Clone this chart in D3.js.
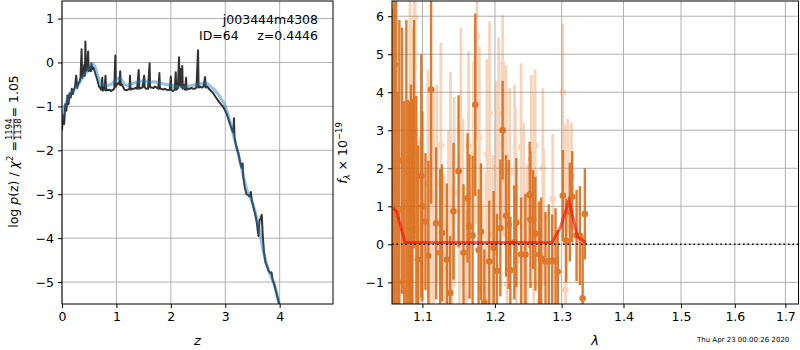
<!DOCTYPE html>
<html>
<head>
<meta charset="utf-8">
<script src="https://cdn.jsdelivr.net/npm/d3@7"></script>
<style>
  body { margin: 0; background: #fff; }
  svg { font-family: "DejaVu Sans", sans-serif; }
</style>
</head>
<body>
<div id="chart"></div>
<script>
const svgWidth = 800;
const svgHeight = 350;

// ---- p(z) panel data ----
const pzRedshift = [0.00,0.02,0.04,0.06,0.08,0.10,0.12,0.14,0.16,0.18,0.20,0.22,0.24,0.26,0.28,0.30,0.32,0.34,0.36,0.37,
  0.39,0.41,0.42,0.43,0.44,0.46,0.48,0.49,0.51,0.53,0.54,0.56,0.58,0.60,0.62,0.64,0.66,0.68,0.70,0.72,
  0.74,0.75,0.78,0.80,0.81,0.84,0.86,0.88,0.90,0.93,0.96,0.98,0.99,1.01,1.03,1.05,1.07,1.08,1.10,1.12,
  1.15,1.18,1.21,1.24,1.25,1.26,1.29,1.32,1.35,1.38,1.41,1.42,1.45,1.48,1.51,1.52,1.55,1.58,1.61,1.62,
  1.65,1.68,1.71,1.74,1.77,1.79,1.80,1.83,1.86,1.89,1.92,1.95,1.98,2.00,2.01,2.04,2.07,2.09,2.10,2.13,
  2.15,2.16,2.18,2.19,2.21,2.22,2.24,2.26,2.28,2.29,2.32,2.35,2.38,2.41,2.44,2.47,2.50,2.51,2.54,2.57,
  2.60,2.63,2.64,2.67,2.70,2.74,2.78,2.82,2.86,2.90,2.94,2.98,3.02,3.06,3.10,3.13,3.15,3.16,3.17,3.20,
  3.24,3.27,3.30,3.32,3.33,3.36,3.39,3.42,3.45,3.47,3.49,3.52,3.55,3.58,3.61,3.63,3.65,3.67,3.69,3.71,
  3.74,3.77,3.80,3.83,3.85,3.87,3.90,3.93,3.96,4.00];
const pzLog = [-1.55,-1.20,-1.40,-0.95,-1.10,-0.75,-0.95,-0.70,-0.80,-0.60,-0.72,-0.62,-0.55,-0.30,-0.58,-0.48,-0.45,-0.35,0.30,-0.35,
  -0.28,-0.05,-0.30,0.48,-0.20,-0.15,0.25,-0.20,-0.10,-0.20,-0.02,-0.15,-0.12,-0.20,-0.28,-0.35,-0.45,-0.55,-0.58,-0.62,
  -0.35,-0.64,-0.62,-0.30,-0.64,-0.62,-0.63,-0.62,-0.65,-0.63,-0.60,0.16,-0.55,-0.50,-0.47,-0.50,-0.20,-0.52,-0.50,-0.55,
  -0.62,-0.63,-0.62,-0.60,-0.30,-0.62,-0.60,-0.60,-0.58,-0.60,-0.17,-0.60,-0.58,-0.57,-0.30,-0.57,-0.60,-0.60,-0.02,-0.57,
  -0.57,-0.58,-0.55,-0.57,-0.60,-0.24,-0.60,-0.60,-0.62,-0.60,-0.62,-0.63,-0.62,-0.32,-0.63,-0.65,-0.62,-0.22,-0.62,-0.58,
  0.12,-0.52,-0.15,-0.55,-0.08,-0.60,-0.52,-0.62,-0.35,-0.62,-0.60,-0.60,-0.58,-0.60,-0.60,-0.57,0.28,-0.57,-0.55,-0.57,
  -0.55,-0.33,-0.57,-0.55,-0.60,-0.65,-0.70,-0.78,-0.85,-0.92,-0.98,-1.05,-1.15,-1.30,-1.45,-1.55,-1.60,-1.27,-1.70,-1.90,
  -2.06,-2.25,-2.40,-2.30,-2.60,-2.85,-3.00,-3.02,-3.05,-2.95,-3.15,-3.30,-3.45,-3.65,-3.95,-3.60,-3.55,-3.47,-3.95,-4.30,
  -4.56,-4.65,-4.75,-4.80,-4.78,-4.95,-5.05,-5.20,-5.35,-5.55];

const smoothRedshift = [0.00,0.05,0.10,0.15,0.20,0.25,0.30,0.35,0.40,0.45,0.50,0.55,0.58,0.62,0.66,0.70,0.75,0.80,0.85,0.90,
  0.95,1.00,1.05,1.10,1.15,1.20,1.30,1.40,1.50,1.60,1.70,1.80,1.90,2.00,2.10,2.20,2.30,2.40,2.50,2.60,
  2.65,2.70,2.80,2.90,3.00,3.10,3.20,3.30,3.40,3.50,3.60,3.70,3.80,3.90,4.00];
const smoothLog = [-1.30,-1.00,-0.85,-0.72,-0.65,-0.58,-0.50,-0.40,-0.30,-0.22,-0.12,-0.05,-0.05,-0.15,-0.32,-0.45,-0.50,-0.52,-0.52,-0.50,
  -0.45,-0.38,-0.36,-0.40,-0.50,-0.52,-0.48,-0.44,-0.42,-0.45,-0.44,-0.47,-0.50,-0.52,-0.55,-0.56,-0.55,-0.52,-0.50,-0.47,
  -0.47,-0.52,-0.62,-0.78,-1.00,-1.40,-1.90,-2.40,-2.92,-3.20,-3.65,-4.30,-4.75,-5.05,-5.55];

const pzXTicks = [0, 1, 2, 3, 4];
const pzYTicks = [-5, -4, -3, -2, -1, 0, 1];

// ---- spectrum panel data ----
const lightWave = [1.0838,1.0851,1.0873,1.0891,1.0904,1.0960,1.0970,1.1072,1.1102,1.1147,1.1192,1.1246,1.1290,1.1349,1.1376,1.1398,
  1.1427,1.1500,1.1520,1.1548,1.1594,1.1627,1.1697,1.1720,1.1744,1.1777,1.1815,1.1870,1.1885,1.1908,1.1922,1.1970,
  1.2019,1.2053,1.2102,1.2111,1.2126,1.2161,1.2175,1.2214,1.2287,1.2297,1.2312,1.2382,1.2413,1.2421,1.2471,1.2536,
  1.2571,1.2582,1.2592,1.2662,1.2709,1.2724,1.2861,1.3018,1.3049,1.3060,1.3095,1.3153];
const lightFlux = [2.27,0.90,1.72,4.65,5.96,-0.68,-0.52,1.60,1.11,1.20,1.60,2.60,-0.65,0.40,2.13,-0.80,
  1.38,0.00,3.10,1.10,-1.40,2.58,2.40,3.13,5.46,2.80,-1.17,-0.40,2.37,0.00,3.46,0.25,
  2.00,3.05,2.60,3.43,2.50,2.30,-1.05,1.90,1.90,1.50,-0.45,2.56,-1.55,1.20,0.00,2.25,
  -1.05,1.90,2.60,-1.50,2.00,0.70,1.20,4.00,1.55,-1.20,1.80,1.80];
const lightErr = [4.2,3.8,4.0,4.5,4.8,3.5,3.2,3.0,2.8,2.9,2.6,2.7,2.5,2.6,2.4,2.3,
  2.5,2.4,2.6,2.2,2.3,2.5,2.4,2.6,2.7,2.4,2.2,2.3,2.5,2.2,2.4,2.1,
  2.3,2.4,2.2,2.6,2.3,2.4,2.1,2.2,2.3,2.1,2.0,2.2,2.1,2.0,2.1,2.2,
  2.0,2.1,2.0,2.0,2.1,1.8,1.7,1.8,1.6,1.5,1.5,1.4];

const darkWave = [1.0615,1.0630,1.0645,1.0660,1.0685,1.0700,1.0735,1.0761,1.0790,1.0810,1.0829,1.0850,1.0868,1.0890,1.0920,1.0940,
  1.0985,1.1000,1.1040,1.1079,1.1115,1.1183,1.1237,1.1260,1.1327,1.1372,1.1418,1.1487,1.1556,1.1612,1.1640,1.1682,
  1.1720,1.1767,1.1801,1.1848,1.1919,1.1981,1.2029,1.2078,1.2111,1.2161,1.2199,1.2224,1.2282,1.2312,1.2382,1.2446,
  1.2510,1.2521,1.2562,1.2597,1.2653,1.2684,1.2750,1.2800,1.2853,1.2904,1.2940,1.3018,1.3071,1.3128,1.3166,1.3234,
  1.3287,1.3331,1.3366];
const darkFlux = [-0.30,2.50,4.72,1.50,-1.00,0.90,2.20,-1.23,1.90,1.00,-0.75,1.20,0.33,2.90,0.40,-0.40,
  1.80,1.00,0.60,-0.30,4.07,0.55,-0.22,0.30,-0.40,-1.28,0.87,1.92,-0.22,1.22,0.47,0.23,
  3.67,-0.15,0.33,-1.53,-0.45,-0.10,-0.70,0.43,3.00,0.75,0.52,-0.68,0.05,0.57,-0.27,-0.27,
  1.30,0.65,0.65,0.28,-0.27,-0.37,-0.45,-0.45,-0.42,-0.45,-0.72,1.28,0.10,0.85,1.25,0.23,
  0.23,-1.42,0.80];
const darkErr = [6.5,6.0,6.0,6.0,5.0,5.0,3.5,5.0,4.0,2.8,4.5,3.0,3.5,3.0,3.5,3.0,
  3.2,2.5,1.8,2.5,3.0,2.0,2.2,1.8,2.0,1.5,1.8,2.0,1.8,1.7,1.9,2.1,
  2.4,1.6,1.8,1.4,1.6,1.5,1.5,1.8,1.3,1.6,1.7,1.4,1.5,1.7,1.5,1.6,
  1.4,1.8,1.3,1.5,1.4,1.6,1.3,1.5,1.2,1.4,1.1,1.2,1.1,1.3,1.2,1.2,
  1.3,1.6,1.2];

const modelWave = [1.0620,1.0665,1.0774,1.1500,1.2200,1.2850,1.2982,1.3113,1.3192,1.3245,1.3379];
const modelFlux = [0.95,0.86,0.05,0.05,0.05,0.05,0.45,1.15,0.60,0.20,0.05];

const specXTicks = [1.1, 1.2, 1.3, 1.4, 1.5, 1.6, 1.7];
const specYTicks = [-1, 0, 1, 2, 3, 4, 5, 6];

const svg = d3.select("#chart")
  .append("svg")
  .attr("width", svgWidth)
  .attr("height", svgHeight);

const pzBox = { left: 62, right: 333, top: 1, bottom: 304 };
const spBox = { left: 392, right: 798.5, top: 1, bottom: 304 };

const x1 = d3.scaleLinear().domain([0, 4.98]).range([pzBox.left, pzBox.right]);
const y1 = d3.scaleLinear().domain([-5.5, 1.4]).range([pzBox.bottom, pzBox.top]);
const x2 = d3.scaleLog().domain([1.0606, 1.727]).range([spBox.left, spBox.right]);
const y2 = d3.scaleLinear().domain([-1.57, 6.40]).range([spBox.bottom, spBox.top]);

const defs = svg.append("defs");
[["clip-pz", pzBox], ["clip-sp", spBox]].forEach(([id, b]) => {
  defs.append("clipPath").attr("id", id)
    .append("rect")
    .attr("x", b.left).attr("y", b.top)
    .attr("width", b.right - b.left).attr("height", b.bottom - b.top);
});

function drawGrid(box, xs, ys, xt, yt) {
  const g = svg.append("g").attr("stroke", "#b0b0b0").attr("stroke-width", 1);
  g.selectAll(".gx").data(xt).join("line")
    .attr("x1", d => xs(d)).attr("x2", d => xs(d))
    .attr("y1", box.top).attr("y2", box.bottom);
  g.selectAll(".gy").data(yt).join("line")
    .attr("y1", d => ys(d)).attr("y2", d => ys(d))
    .attr("x1", box.left).attr("x2", box.right);
}

function drawAxes(box, xs, ys, xt, yt, xfmt, yfmt) {
  const xa = svg.append("g")
    .attr("transform", `translate(0, ${box.bottom})`)
    .call(d3.axisBottom(xs).tickValues(xt).tickFormat(xfmt).tickSize(4).tickPadding(4).tickSizeOuter(0));
  const ya = svg.append("g")
    .attr("transform", `translate(${box.left}, 0)`)
    .call(d3.axisLeft(ys).tickValues(yt).tickFormat(yfmt).tickSize(4).tickPadding(4).tickSizeOuter(0));
  [xa, ya].forEach(a => {
    a.select(".domain").remove();
    a.selectAll("text").style("font-size", "12.5px").attr("fill", "#000").style("font-family", "DejaVu Sans");
    a.selectAll("line").attr("stroke", "#000");
  });
  svg.append("rect")
    .attr("x", box.left).attr("y", box.top)
    .attr("width", box.right - box.left).attr("height", box.bottom - box.top)
    .attr("fill", "none").attr("stroke", "#000").attr("stroke-width", 1);
}

// ---- left panel ----
drawGrid(pzBox, x1, y1, pzXTicks, pzYTicks);

const pzPlot = svg.append("g").attr("clip-path", "url(#clip-pz)");
const line1 = d3.line().x(d => x1(d[0])).y(d => y1(d[1]));

pzPlot.append("path")
  .datum(pzRedshift.map((z, i) => [z, pzLog[i]]))
  .attr("d", line1)
  .attr("fill", "none")
  .attr("stroke", "#333")
  .attr("stroke-width", 2)
  .attr("stroke-linejoin", "round");

pzPlot.append("path")
  .datum(smoothRedshift.map((z, i) => [z, smoothLog[i]]))
  .attr("d", d3.line().x(d => x1(d[0])).y(d => y1(d[1])).curve(d3.curveMonotoneX))
  .attr("fill", "none")
  .attr("stroke", "#1f77b4")
  .attr("stroke-opacity", 0.45)
  .attr("stroke-width", 3.2);

drawAxes(pzBox, x1, y1, pzXTicks, pzYTicks, d3.format("d"), d3.format("d"));

svg.append("text")
  .attr("x", 318).attr("y", 24)
  .attr("text-anchor", "end")
  .style("font-size", "12.5px")
  .text("j003444m4308");
svg.append("text")
  .attr("x", 318).attr("y", 39.5)
  .attr("text-anchor", "end")
  .style("font-size", "12.5px")
  .text("z=0.4446");
svg.append("text")
  .attr("x", 199).attr("y", 39.5)
  .style("font-size", "12.5px")
  .text("ID=64");

svg.append("text")
  .attr("x", (pzBox.left + pzBox.right) / 2).attr("y", 345)
  .attr("text-anchor", "middle")
  .style("font-size", "13px")
  .style("font-style", "italic")
  .text("z");

// rotated y label with fraction
const yLab = svg.append("g").attr("transform", "translate(17.5, 151.5) rotate(-90)");
const yLabIn = yLab.append("g");
const part1 = yLabIn.append("text").style("font-size", "12.5px");
part1.append("tspan").text("log ");
part1.append("tspan").style("font-style", "italic").text("p");
part1.append("tspan").text("(z) / ");
part1.append("tspan").style("font-style", "italic").text("χ");
part1.append("tspan").attr("dy", -5).style("font-size", "8.5px").text("2");
part1.append("tspan").attr("dy", 5).text(" = ");
const w1 = part1.node().getComputedTextLength() + 1;
const num = yLabIn.append("text").attr("x", w1).attr("y", -5.5).style("font-size", "8.5px").text("1194");
const den = yLabIn.append("text").attr("x", w1).attr("y", 3.8).style("font-size", "8.5px").text("1138");
const fw = Math.max(num.node().getComputedTextLength(), den.node().getComputedTextLength());
yLabIn.append("line")
  .attr("x1", w1).attr("x2", w1 + fw)
  .attr("y1", -3.6).attr("y2", -3.6)
  .attr("stroke", "#000").attr("stroke-width", 0.7);
const part3 = yLabIn.append("text").attr("x", w1 + fw + 1).style("font-size", "12.5px").text(" = 1.05");
const total = w1 + fw + 1 + part3.node().getComputedTextLength();
yLabIn.attr("transform", `translate(${-total / 2}, 0)`);

// ---- right panel ----
drawGrid(spBox, x2, y2, specXTicks, specYTicks);

const spPlot = svg.append("g").attr("clip-path", "url(#clip-sp)");

const lightData = lightWave.map((w, i) => ({ w, f: lightFlux[i], e: lightErr[i] }));
const darkData = darkWave.map((w, i) => ({ w, f: darkFlux[i], e: darkErr[i] }));

const lightG = spPlot.append("g").attr("opacity", 0.35);
lightG.selectAll("line").data(lightData).join("line")
  .attr("x1", d => x2(d.w)).attr("x2", d => x2(d.w))
  .attr("y1", d => y2(d.f - d.e)).attr("y2", d => y2(d.f + d.e))
  .attr("stroke", "#e8843a").attr("stroke-width", 2.8);
lightG.selectAll("circle").data(lightData).join("circle")
  .attr("cx", d => x2(d.w)).attr("cy", d => y2(d.f))
  .attr("r", 3.3).attr("fill", "#e8843a");

const darkG = spPlot.append("g").attr("opacity", 0.85);
darkG.selectAll("line").data(darkData).join("line")
  .attr("x1", d => x2(d.w)).attr("x2", d => x2(d.w))
  .attr("y1", d => y2(d.f - d.e)).attr("y2", d => y2(d.f + d.e))
  .attr("stroke", "#d9650f").attr("stroke-width", 2.4);
darkG.selectAll("circle").data(darkData).join("circle")
  .attr("cx", d => x2(d.w)).attr("cy", d => y2(d.f))
  .attr("r", 3.3).attr("fill", "#d9650f");

spPlot.append("line")
  .attr("x1", spBox.left).attr("x2", spBox.right)
  .attr("y1", y2(0)).attr("y2", y2(0))
  .attr("stroke", "#000").attr("stroke-width", 1.5)
  .attr("stroke-dasharray", "1.5,3");

spPlot.append("path")
  .datum(modelWave.map((w, i) => [w, modelFlux[i]]))
  .attr("d", d3.line().x(d => x2(d[0])).y(d => y2(d[1])))
  .attr("fill", "none")
  .attr("stroke", "red")
  .attr("stroke-opacity", 0.6)
  .attr("stroke-width", 3);

drawAxes(spBox, x2, y2, specXTicks, specYTicks, d3.format(".1f"), d3.format("d"));

svg.append("text")
  .attr("x", 595).attr("y", 345)
  .attr("text-anchor", "middle")
  .style("font-size", "13px")
  .style("font-style", "italic")
  .text("λ");

const fLab = svg.append("text")
  .attr("transform", "translate(347, 153) rotate(-90)")
  .attr("text-anchor", "middle")
  .style("font-size", "12.5px");
fLab.append("tspan").style("font-style", "italic").text("f");
fLab.append("tspan").attr("dy", 3).style("font-size", "8.5px").style("font-style", "italic").text("λ");
fLab.append("tspan").attr("dy", -3).text(" × 10");
fLab.append("tspan").attr("dy", -5).style("font-size", "8.5px").text("−19");

svg.append("text")
  .attr("x", 697).attr("y", 342)
  .style("font-size", "7px")
  .text("Thu Apr 23 00:00:26 2020");
</script>
</body>
</html>
